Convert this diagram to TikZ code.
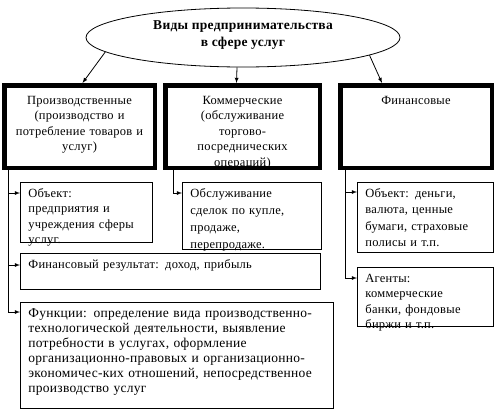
\documentclass[tikz,border=0pt]{standalone}
\usepackage{fontspec}
\setmainfont{Liberation Serif}[LetterSpace=2]
\usetikzlibrary{shapes.geometric}

\begin{document}
\begin{tikzpicture}
            [every node/.style={inner sep=0pt, font=\fontsize{12.5}{15.5}\selectfont},
             >=latex,
             kind/.style={rectangle, draw=black, line width=4.5pt, anchor=north west, align=center,
                          inner xsep=3pt, inner ysep=8pt, text height=11pt, text depth=55.5pt},
             leaf/.style={rectangle, draw=black, line width=0.8pt, anchor=north west, align=left,
                          inner xsep=8pt, inner ysep=5pt, text height=10pt},
             link/.style={line width=0.8pt, ->, color=black}]
                \useasboundingbox (0pt, 0pt) rectangle (497pt, -410pt);
                \node (ell) [ellipse, minimum width=314pt, minimum height=59pt, line width=0.8pt, draw=black, align=center,
                             text height=26pt, text depth=9pt,
                             font=\fontsize{13.5}{17}\selectfont\bfseries] at (243pt, -37.5pt) {Виды предпринимательства\\в сфере услуг};
                \node (b1) [kind, text width=144.5pt] at (2pt, -83pt) {Производственные\\(производство и\\потребление товаров и\\услуг)};
                \node (b2) [kind, text width=148.5pt] at (163pt, -83pt) {Коммерческие\\(обслуживание\\торгово-\\посреднических\\операций)};
                \node (b3) [kind, text width=145.5pt] at (338pt, -83pt) {Финансовые};
                \node (obj1) [leaf, text width=116pt, text depth=40pt] at (20pt, -182pt) {Объект:\\предприятия и\\учреждения сферы\\услуг.};
                \node (res) [leaf, text width=284pt, text depth=16pt] at (20pt, -253pt) {Финансовый результат: доход, прибыль};
                \node (func) [leaf, text width=297pt, text depth=86pt, font=\fontsize{13.5}{15}\selectfont] at (20pt, -302pt) {Функции: определение вида производственно-\\технологической деятельности, выявление\\потребности в услугах, оформление\\организационно-правовых и организационно-\\экономичес-ких отношений, непосредственное\\производство услуг};
                \node (serv) [leaf, text width=123pt, text depth=47pt, font=\fontsize{12.5}{17}\selectfont] at (182pt, -182pt) {Обслуживание\\сделок по купле,\\продаже,\\перепродаже.};
                \node (obj3) [leaf, text width=120pt, text depth=50pt, font=\fontsize{12.5}{16.3}\selectfont] at (357pt, -182pt) {Объект: деньги,\\валюта, ценные\\бумаги, страховые\\полисы и т.п.};
                \node (agent) [leaf, text width=120pt, text depth=39pt] at (357pt, -267pt) {Агенты:\\коммерческие\\банки, фондовые\\биржи и т.п.};
                \draw [link] (ell.186) to ([xshift=3pt]b1.north);
                \draw [link] ([xshift=-6pt]ell.south) to ([xshift=-6pt]b2.north);
                \draw [link] (ell.352) to ([xshift=-34pt]b3.north);
                \draw [link] ([xshift=6pt]b1.south west) |- ([yshift=-11pt]obj1.north west);
                \draw [link] ([xshift=6pt]b1.south west) |- ([yshift=-12pt]res.north west);
                \draw [link] ([xshift=6pt]b1.south west) |- ([yshift=-10pt]func.north west);
                \draw [link] ([xshift=10pt]b2.south west) |- ([yshift=-11pt]serv.north west);
                \draw [link] ([xshift=7pt]b3.south west) |- ([yshift=-10pt]obj3.north west);
                \draw [link] ([xshift=7pt]b3.south west) |- ([yshift=-11pt]agent.north west);
            \end{tikzpicture}
\end{document}
